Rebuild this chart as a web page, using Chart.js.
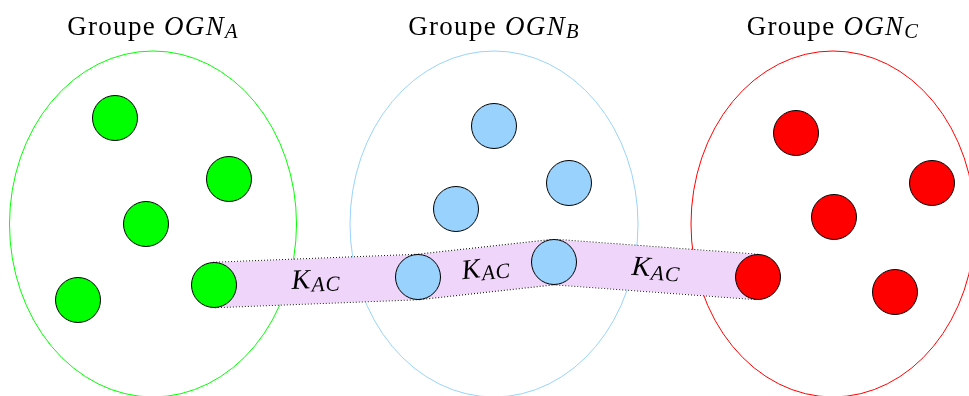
<!DOCTYPE html>
<html>
<head>
<meta charset="utf-8">
<script src="https://cdn.jsdelivr.net/npm/chart.js@4.4.1/dist/chart.umd.min.js"></script>
<style>
  body { margin:0; background:#fff; }
  #wrap { width:969px; height:396px; }
</style>
</head>
<body>
<div id="wrap"><canvas id="mycanvas" width="969" height="396"></canvas></div>
<script>
// groupes (ellipses)
var groupNames = ['A', 'B', 'C'];
var groupX = [153, 494, 833];
var groupY = [224, 224, 224];
var groupRx = [143.5, 144, 142];
var groupRy = [173, 173, 173];
var groupColors = ['#00ff00', '#99d3fd', '#ff0000'];
var titleY = 34.5;

// noeuds de chaque groupe
var nodesAX = [115, 229, 146, 78, 214];
var nodesAY = [118, 179, 224, 300, 285];
var nodesBX = [494, 569, 456, 418, 554];
var nodesBY = [126, 183, 209, 277, 262];
var nodesCX = [796, 932, 834, 895, 758];
var nodesCY = [133, 183, 217, 292, 277];

// chemin K_AC
var pathX = [214, 418, 554, 758];
var pathY = [285, 277, 262, 277];
var pathLabel = 'K';
var pathSub = 'AC';

var FONT = '"Liberation Serif", "Times New Roman", serif';
var SIZE = 27;

function pts(xs, ys) {
    var out = [];
    for (var i in xs) {
        out.push({x: xs[i], y: ys[i]});
    }
    return out;
}

function nodeSet(xs, ys, color) {
    return {
        type: 'scatter',
        data: pts(xs, ys),
        backgroundColor: color,
        borderColor: '#000',
        borderWidth: 1,
        pointRadius: 22.5,
        pointHoverRadius: 22.5,
        clip: false,
        order: 0
    };
}

// texte "base" + italique + indice
function drawMath(ctx, plain, ital, sub, size, spacing) {
    ctx.letterSpacing = spacing + 'px';
    ctx.font = size + 'px ' + FONT;
    var w1 = ctx.measureText(plain).width;
    ctx.font = 'italic ' + size + 'px ' + FONT;
    var w2 = ctx.measureText(ital).width;
    ctx.font = 'italic ' + (size * 0.76) + 'px ' + FONT;
    var w3 = ctx.measureText(sub).width;
    var x = -(w1 + w2 + w3) / 2;
    ctx.textBaseline = 'alphabetic';
    ctx.textAlign = 'left';
    ctx.fillStyle = '#000';
    ctx.font = size + 'px ' + FONT;
    ctx.fillText(plain, x, 0);
    ctx.font = 'italic ' + size + 'px ' + FONT;
    ctx.fillText(ital, x + w1, 0);
    ctx.font = 'italic ' + (size * 0.76) + 'px ' + FONT;
    ctx.fillText(sub, x + w1 + w2, size * 0.12);
}

var ellipsesPlugin = {
    id: 'ellipses',
    beforeDatasetsDraw: function(chart) {
        var ctx = chart.ctx, sx = chart.scales.x, sy = chart.scales.y;
        ctx.save();
        for (var i in groupNames) {
            var cx = sx.getPixelForValue(groupX[i]);
            var cy = sy.getPixelForValue(groupY[i]);
            var rx = sx.getPixelForValue(groupX[i] + groupRx[i]) - cx;
            var ry = sy.getPixelForValue(groupY[i] + groupRy[i]) - cy;
            ctx.beginPath();
            ctx.ellipse(cx, cy, Math.abs(rx), Math.abs(ry), 0, 0, Math.PI * 2);
            ctx.strokeStyle = groupColors[i];
            ctx.lineWidth = 1;
            ctx.stroke();
        }
        ctx.restore();
    },
    afterDraw: function(chart) {
        var ctx = chart.ctx, sx = chart.scales.x, sy = chart.scales.y;
        ctx.save();
        for (var i in groupNames) {
            ctx.save();
            ctx.translate(sx.getPixelForValue(groupX[i]), sy.getPixelForValue(titleY));
            drawMath(ctx, 'Groupe ', 'OGN', groupNames[i], SIZE, 1.3);
            ctx.restore();
        }
        // etiquettes sur chaque segment du chemin
        for (var k = 0; k < pathX.length - 1; k++) {
            var x1 = sx.getPixelForValue(pathX[k]), y1 = sy.getPixelForValue(pathY[k]);
            var x2 = sx.getPixelForValue(pathX[k + 1]), y2 = sy.getPixelForValue(pathY[k + 1]);
            ctx.save();
            ctx.translate((x1 + x2) / 2, (y1 + y2) / 2);
            ctx.rotate(Math.atan2(y2 - y1, x2 - x1));
            ctx.translate(0, 7);
            drawMath(ctx, '', pathLabel, pathSub, SIZE + 1, 1);
            ctx.restore();
        }
        ctx.restore();
    }
};

var ctx = document.getElementById('mycanvas');
var chart = new Chart(ctx, {
    data: {
        datasets: [
            nodeSet(nodesAX, nodesAY, '#00ff00'),
            nodeSet(nodesBX, nodesBY, '#99d3fd'),
            nodeSet(nodesCX, nodesCY, '#ff0000'),
            {
                type: 'line',
                data: pts(pathX, pathY),
                borderColor: '#f0d5fa',
                borderWidth: 44.5,
                borderCapStyle: 'butt',
                borderJoinStyle: 'round',
                pointRadius: 0,
                tension: 0,
                fill: false,
                clip: false,
                order: 1
            },
            {
                type: 'line',
                data: pts(pathX, pathY),
                borderColor: '#111',
                borderWidth: 46.5,
                borderDash: [1, 2],
                borderCapStyle: 'butt',
                borderJoinStyle: 'round',
                pointRadius: 0,
                tension: 0,
                fill: false,
                clip: false,
                order: 2
            }
        ]
    },
    options: {
        responsive: false,
        animation: false,
        events: [],
        layout: { padding: 0, autoPadding: false },
        plugins: { legend: { display: false }, tooltip: { enabled: false } },
        scales: {
            x: { type: 'linear', min: 0, max: 969, display: false },
            y: { type: 'linear', min: 0, max: 396, reverse: true, display: false }
        }
    },
    plugins: [ellipsesPlugin]
});
</script>
</body>
</html>
